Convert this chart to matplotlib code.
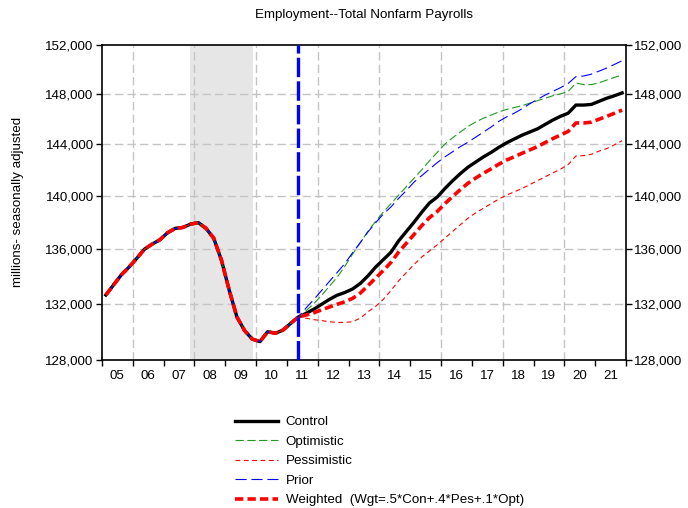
import numpy as np
import pandas as pd
import matplotlib
matplotlib.use('Agg')
import matplotlib.pyplot as plt
from matplotlib.ticker import FixedLocator, NullLocator, FuncFormatter
from matplotlib.lines import Line2D

# original face is a narrow Arial; Liberation Sans a bit smaller keeps the widths
plt.rcParams['font.family'] = ['Liberation Sans', 'DejaVu Sans']
plt.rcParams['lines.scale_dashes'] = False
FS = 9.6

# quarterly, 2005Q1 .. 2021Q4
quarters = pd.period_range('2005Q1', '2021Q4', freq='Q')

# actual history 2005Q1 .. 2011Q2 (thousands)
history = [132620, 133350, 134080, 134650, 135290, 135970, 136350, 136670,
           137200, 137530, 137600, 137850, 137960, 137530, 136790, 135170,
           132990, 131050, 130070, 129470, 129290, 129990, 129880, 130110,
           130590, 131050]

# forecasts 2011Q3 .. 2021Q4
control = [131300, 131600, 131950, 132300, 132600, 132800, 133050, 133450,
           134000, 134650, 135200, 135750, 136600, 137300, 138000, 138750,
           139450, 139900, 140550, 141150, 141700, 142200, 142600, 143000,
           143350, 143750, 144100, 144400, 144700, 144950, 145200, 145550,
           145900, 146200, 146450, 147100, 147100, 147150, 147400, 147650,
           147850, 148080]
optimistic = [131500, 132000, 132600, 133250, 133900, 134700, 135600, 136450,
              137300, 138050, 138750, 139400, 140050, 140700, 141350, 142000,
              142700, 143350, 144000, 144500, 144950, 145400, 145750, 146050,
              146300, 146550, 146750, 146900, 147050, 147250, 147450, 147650,
              147850, 148000, 148200, 148880, 148750, 148750, 148900, 149120,
              149340, 149530]
pessimistic = [130950, 130850, 130780, 130700, 130650, 130650, 130700, 130950,
               131400, 131800, 132300, 132950, 133650, 134250, 134850, 135400,
               135850, 136300, 136800, 137300, 137800, 138300, 138700, 139050,
               139400, 139750, 140050, 140300, 140550, 140850, 141150, 141450,
               141750, 142050, 142400, 143070, 143100, 143200, 143450, 143650,
               143950, 144270]
prior = [131700, 132300, 132950, 133600, 134250, 134900, 135700, 136450,
         137250, 137950, 138600, 139150, 139800, 140400, 141050, 141550,
         142050, 142550, 143000, 143400, 143800, 144150, 144550, 144950,
         145350, 145800, 146150, 146450, 146800, 147200, 147550, 147900,
         148200, 148500, 148850, 149400, 149450, 149600, 149850, 150100,
         150400, 150700]
weighted = [131180, 131340, 131550, 131750, 131950, 132130, 132370, 132750,
            133290, 133850, 134400, 135000, 135770, 136420, 137080, 137740,
            138340, 138800, 139400, 139940, 140470, 140960, 141360, 141730,
            142070, 142430, 142750, 143010, 143280, 143540, 143800, 144120,
            144430, 144720, 145000, 145670, 145670, 145730, 145970, 146200,
            146440, 146700]

yticks = [128000, 132000, 136000, 140000, 144000, 148000, 152000]
years = list(range(2005, 2022))
recession = (2007.865, 2009.89)
forecast_start = 2011.36

x = quarters.year + (quarters.quarter - 0.5) / 4.0

fig = plt.figure(figsize=(6.88, 5.08), dpi=100)
ax = fig.add_axes([102/688, 1 - 360/508, 524/688, 315/508])

ax.axvspan(recession[0], recession[1], color='#e6e6e6', lw=0, zorder=0)

gridc = '#c4c4c4'
for yr in range(2006, 2022, 2):
    ax.axvline(yr, color=gridc, lw=1.0, dashes=(6, 3), zorder=1)
for yv in yticks[1:-1]:
    ax.axhline(yv, color=gridc, lw=1.0, dashes=(6, 3), zorder=1)

styles = [
    ('Control', control, dict(color='black', lw=2.4, ls='-')),
    ('Optimistic', optimistic, dict(color='#1f9a1f', lw=0.8, dashes=(6, 2.5))),
    ('Pessimistic', pessimistic, dict(color='red', lw=0.8, dashes=(3.5, 2.5))),
    ('Prior', prior, dict(color='blue', lw=0.8, dashes=(8, 3.5))),
    ('Weighted  (Wgt=.5*Con+.4*Pes+.1*Opt)', weighted, dict(color='red', lw=2.6, dashes=(6, 3))),
]
handles = []
for name, fc, st in styles:
    ax.plot(x, history + fc, zorder=3, **st)
    handles.append(Line2D([], [], label=name, **st))

ax.axvline(forecast_start, color='blue', lw=2.4, dashes=(14, 3), zorder=4)

ax.set_xlim(2005, 2022)
ax.set_yscale('log')
ax.set_ylim(128000, 152000)
ax.yaxis.set_major_locator(FixedLocator(yticks))
ax.yaxis.set_minor_locator(NullLocator())
ax.yaxis.set_major_formatter(FuncFormatter(lambda v, p: '{:,.0f}'.format(v)))
ax.tick_params(axis='y', which='both', left=True, right=True, labelleft=True,
               labelright=True, direction='out', length=4, width=1, labelsize=FS, pad=2)

ax.xaxis.set_major_locator(FixedLocator(years + [2022]))
ax.xaxis.set_major_formatter(FuncFormatter(lambda v, p: ''))
ax.xaxis.set_minor_locator(FixedLocator([y + 0.5 for y in years]))
ax.xaxis.set_minor_formatter(FuncFormatter(lambda v, p: '%02d' % (int(v) % 100)))
ax.tick_params(axis='x', which='major', direction='out', length=4, width=1)
ax.tick_params(axis='x', which='minor', length=0, labelsize=FS, pad=7)

for s in ax.spines.values():
    s.set_linewidth(1.2)

fig.text(364/688, 1 - 15/508, 'Employment--Total Nonfarm Payrolls', ha='center', va='center', fontsize=FS)
fig.text(18/688, 1 - 202/508, 'millions- seasonally adjusted', ha='center', va='center',
         rotation=90, fontsize=FS)

fig.legend(handles=handles, loc='upper left', bbox_to_anchor=(235/688, 1 - 416/508),
           frameon=False, fontsize=FS, handlelength=3.2, handletextpad=0.6,
           labelspacing=0.54, borderpad=0, borderaxespad=0)

fig.savefig('out.png', dpi=100)
